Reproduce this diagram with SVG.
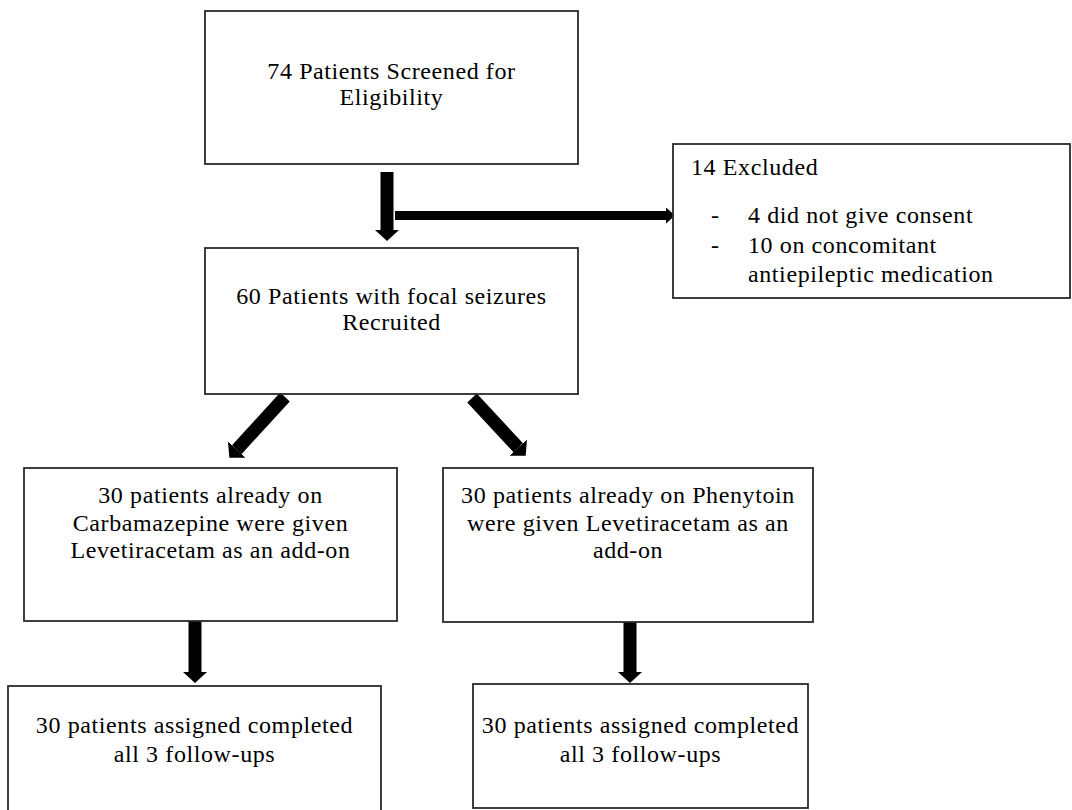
<svg xmlns="http://www.w3.org/2000/svg" width="1072" height="810" viewBox="0 0 1072 810">
<style>
.box{fill:#fff;stroke:#2a2a2a;stroke-width:1.8}
.t{font-family:"Liberation Serif","Times New Roman",serif;font-size:24px;letter-spacing:0.6px;fill:#000}
.c{text-anchor:middle}
.arw{stroke:#000;fill:none}
</style>
<defs>
<marker id="headBig" markerUnits="userSpaceOnUse" markerWidth="11" markerHeight="24" viewBox="0 0 11 24" refX="0" refY="12" orient="auto">
<path d="M0,0 L11,12 L0,24 Z" fill="#000"/>
</marker>
<marker id="headSmall" markerUnits="userSpaceOnUse" markerWidth="9" markerHeight="16" viewBox="0 0 9 16" refX="0" refY="8" orient="auto">
<path d="M0,0 L9,8 L0,16 Z" fill="#000"/>
</marker>
</defs>
<rect width="1072" height="810" fill="#fff"/>
<g id="connectors">
<line class="arw" x1="387" y1="172" x2="387" y2="230" stroke-width="13" marker-end="url(#headBig)"/>
<line class="arw" x1="395" y1="215.5" x2="666" y2="215.5" stroke-width="9" marker-end="url(#headSmall)"/>
<line class="arw" x1="285" y1="397" x2="236.8" y2="449.6" stroke-width="13" marker-end="url(#headBig)"/>
<line class="arw" x1="472" y1="398" x2="518.2" y2="447.7" stroke-width="13" marker-end="url(#headBig)"/>
<line class="arw" x1="195" y1="621" x2="195" y2="672" stroke-width="13" marker-end="url(#headBig)"/>
<line class="arw" x1="630" y1="618" x2="630" y2="672" stroke-width="13" marker-end="url(#headBig)"/>
</g>
<g id="screened">
<rect class="box" x="205" y="11" width="373" height="153"/>
<text class="t c" x="391.5" y="79">74 Patients Screened for</text>
<text class="t c" x="391.5" y="105">Eligibility</text>
</g>
<g id="excluded">
<rect class="box" x="673" y="144" width="397" height="154"/>
<text class="t" x="691" y="175">14 Excluded</text>
<text class="t" x="711" y="223">-</text>
<text class="t" x="748" y="223">4 did not give consent</text>
<text class="t" x="711" y="253">-</text>
<text class="t" x="748" y="253">10 on concomitant</text>
<text class="t" x="748" y="282">antiepileptic medication</text>
</g>
<g id="recruited">
<rect class="box" x="205" y="248" width="373" height="146"/>
<text class="t c" x="391.5" y="304">60 Patients with focal seizures</text>
<text class="t c" x="391.5" y="330">Recruited</text>
</g>
<g id="carbamazepine">
<rect class="box" x="24" y="468" width="373" height="153"/>
<text class="t c" x="210.5" y="503">30 patients already on</text>
<text class="t c" x="210.5" y="531">Carbamazepine were given</text>
<text class="t c" x="210.5" y="558">Levetiracetam as an add-on</text>
</g>
<g id="phenytoin">
<rect class="box" x="443" y="468" width="370" height="154"/>
<text class="t c" x="628" y="503">30 patients already on Phenytoin</text>
<text class="t c" x="628" y="531">were given Levetiracetam as an</text>
<text class="t c" x="628" y="558">add-on</text>
</g>
<g id="followup-left">
<rect class="box" x="8" y="686" width="373" height="130"/>
<text class="t c" x="194.5" y="733">30 patients assigned completed</text>
<text class="t c" x="194.5" y="762">all 3 follow-ups</text>
</g>
<g id="followup-right">
<rect class="box" x="473" y="684" width="335" height="124"/>
<text class="t c" x="640.5" y="733">30 patients assigned completed</text>
<text class="t c" x="640.5" y="762">all 3 follow-ups</text>
</g>
</svg>
